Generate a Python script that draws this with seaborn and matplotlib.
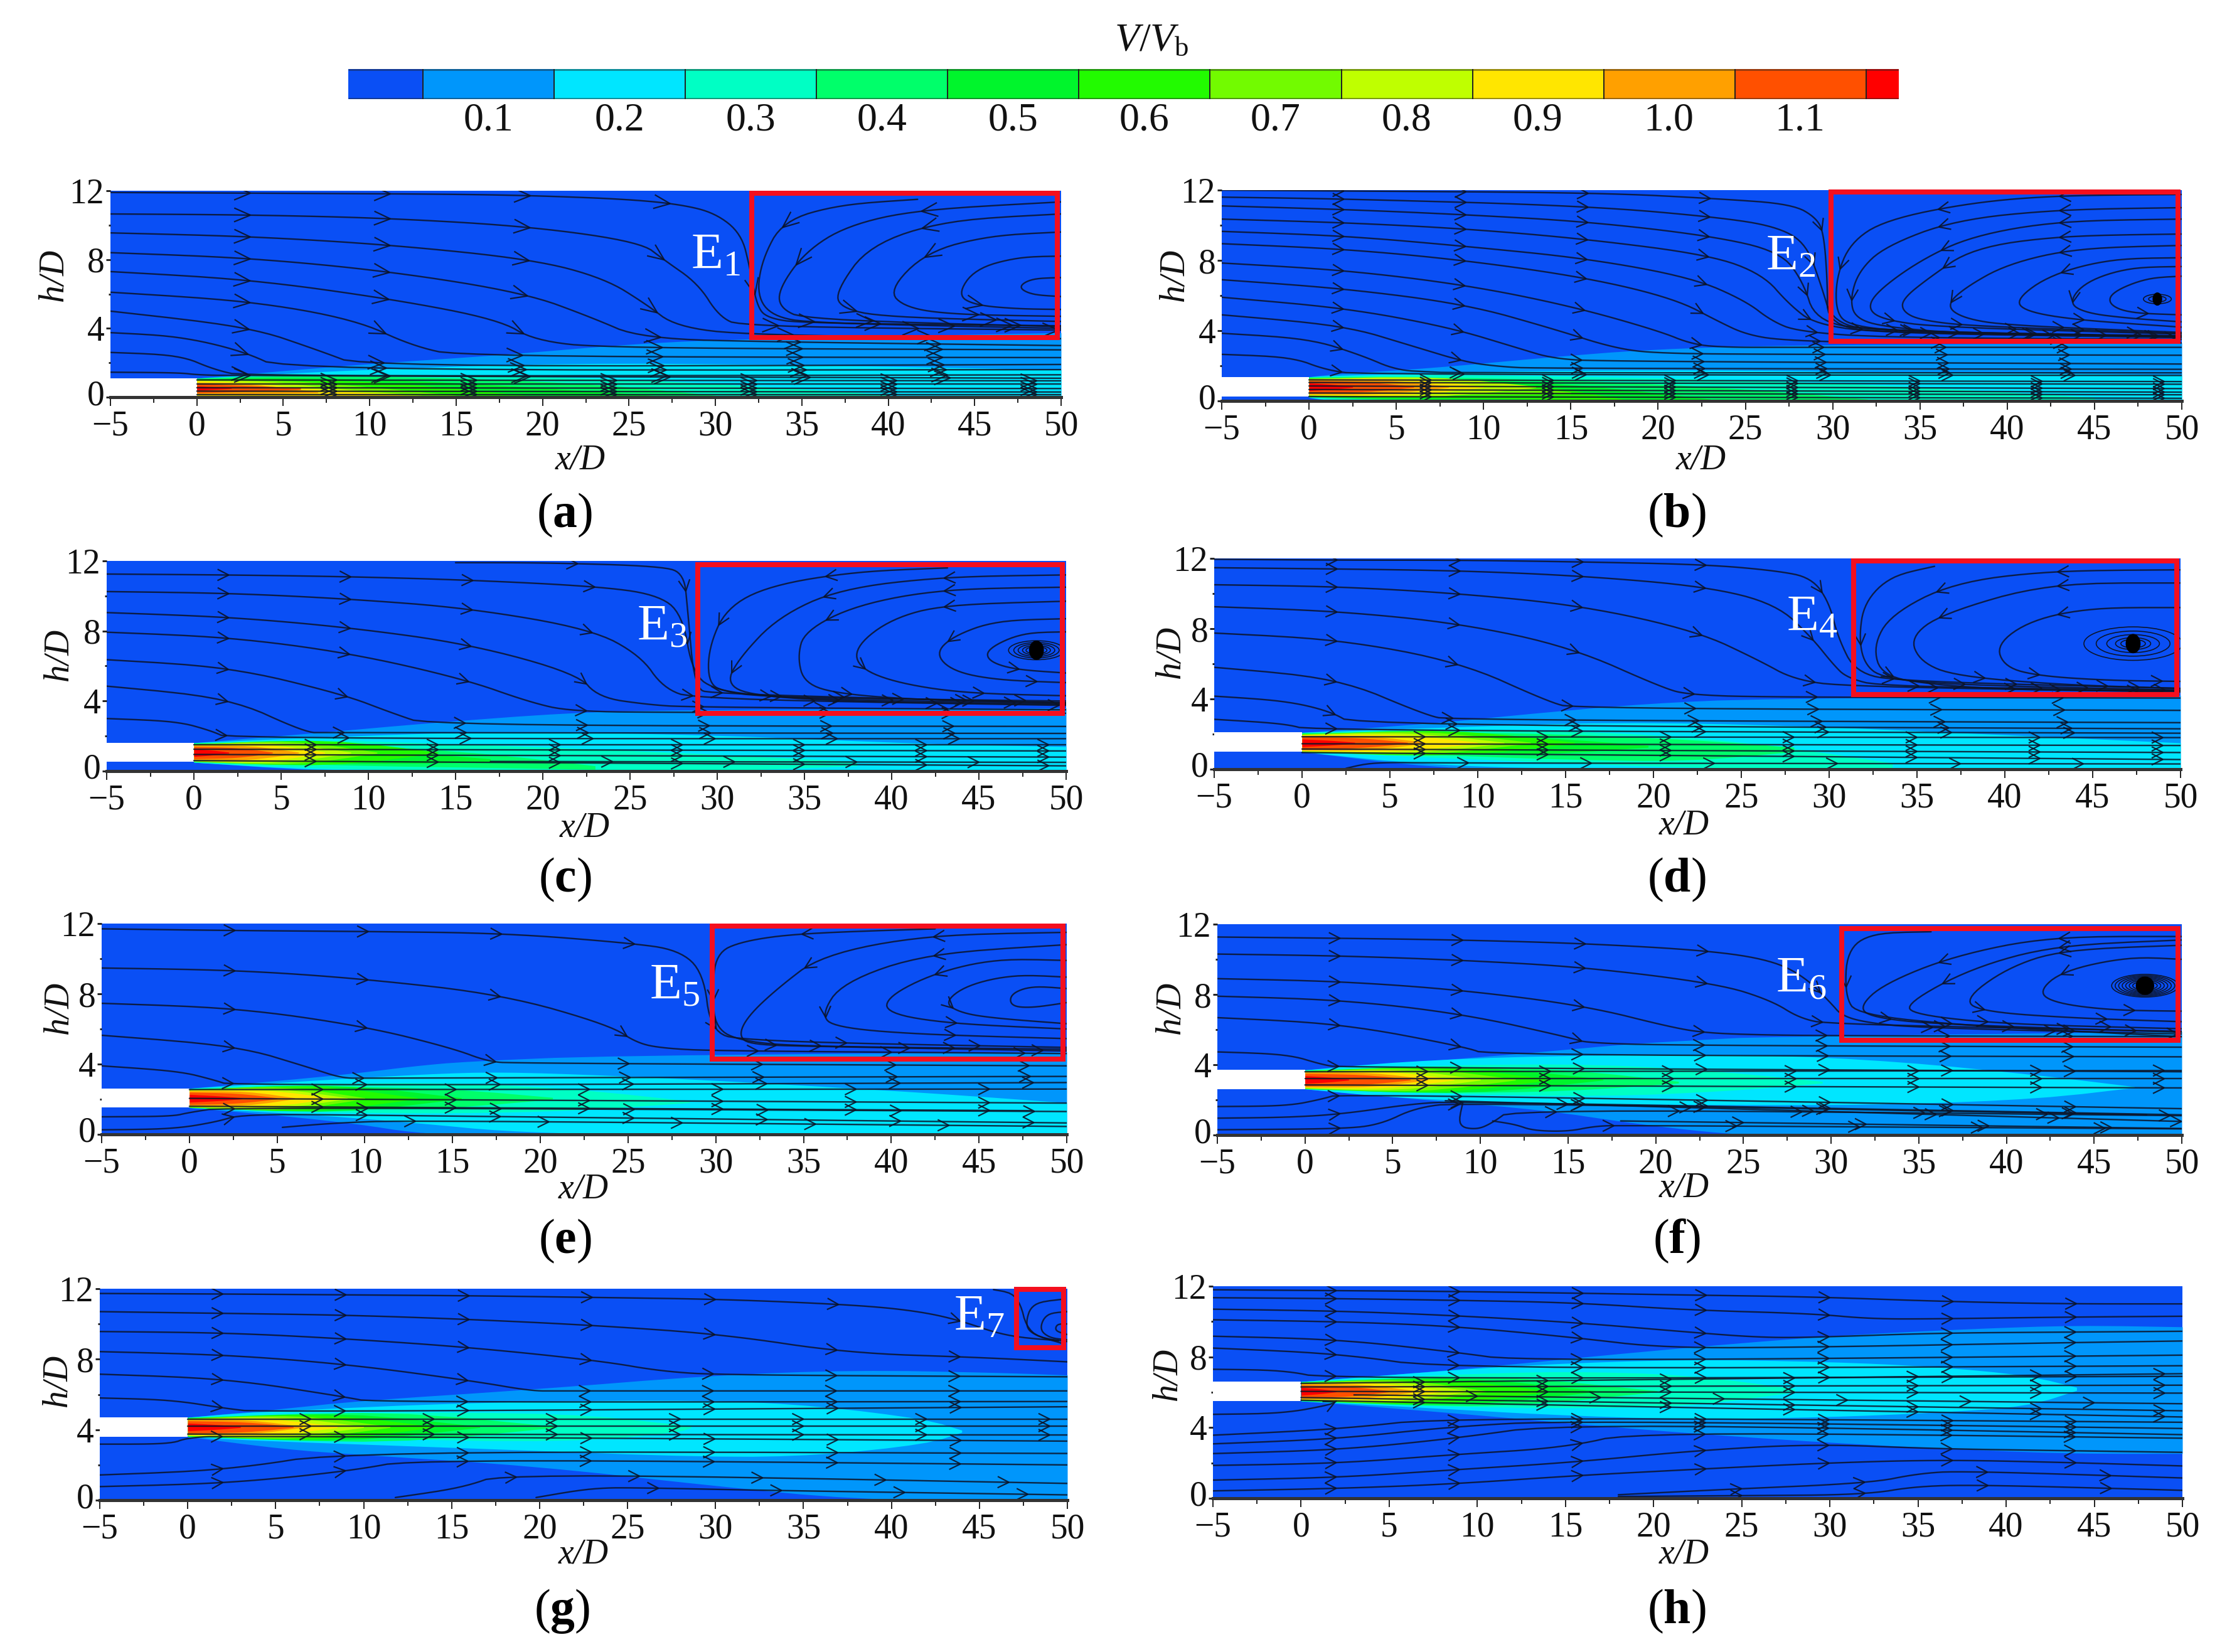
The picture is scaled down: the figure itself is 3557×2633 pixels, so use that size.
import numpy as np
import pandas as pd
import matplotlib
matplotlib.use('Agg')
import matplotlib.pyplot as plt
import seaborn as sns
from matplotlib.collections import LineCollection
from matplotlib.colors import ListedColormap
from matplotlib.patches import Ellipse, Rectangle
from matplotlib.transforms import ScaledTranslation

W, H = 3557, 2633

# colour scale
level_colors = ['#0a4ff5', '#0096fb', '#00e6ff', '#00ffc4', '#00ff6a', '#00f52c',
                '#22fb00', '#72fb00', '#bfff00', '#ffe600', '#ffa000', '#ff5000', '#ff0000']
level_edges = [0.05, 0.15, 0.25, 0.35, 0.45, 0.55, 0.65, 0.75, 0.85, 0.95, 1.05, 1.15]
bar_labels = ['0.1', '0.2', '0.3', '0.4', '0.5', '0.6', '0.7', '0.8', '0.9', '1.0', '1.1']
bar_label_values = [0.1, 0.2, 0.3, 0.4, 0.5, 0.6, 0.7, 0.8, 0.9, 1.0, 1.1]

# jet core, from level 3 up to level 12: half width at the nozzle and half way along
core_levels = [3, 4, 5, 6, 7, 8, 9, 10, 11, 12]
core_half0 = [0.55, 0.54, 0.52, 0.50, 0.50, 0.48, 0.45, 0.42, 0.35, 0.22]
core_half_mid = [1.00, 0.95, 0.85, 0.80, 0.72, 0.62, 0.52, 0.42, 0.30, 0.14]

# (level, x stations, upper edge, lower edge)
bands_a = [
    (1, [0, 9.2, 17.5, 25.7, 32, 50], [1.1, 1.9, 2.45, 3.15, 3.4, 3.75], 0),
    (2, [0, 9.2, 21.6, 33.9, 42, 50], [1.1, 1.6, 2.0, 1.9, 1.75, 1.6], 0),
    (3, [0, 5, 15, 25, 33, 40], [1.1, 1.3, 1.3, 1.05, 0.6, 0.15], 0),
    (4, [0, 5, 15, 24, 30], [1.1, 1.25, 1.15, 0.7, 0.1], 0),
    (5, [0, 5, 12, 20, 27], [1.05, 1.15, 1.0, 0.55, 0.05], 0),
    (6, [0, 5, 12, 19], [1.05, 1.1, 0.8, 0.1], 0),
    (7, [0, 5, 10, 15], [1.0, 1.0, 0.6, 0.1], 0),
    (8, [0, 4, 8, 13], [1.0, 0.95, 0.5, 0.1], 0),
    (9, [0, 3, 7, 12], [0.95, 0.85, 0.45, 0.1], 0.07),
    (10, [0, 3, 7], [0.85, 0.8, 0.3], [0.2, 0.2, 0.25]),
    (11, [0, 2, 6], [0.8, 0.7, 0.55], [0.25, 0.3, 0.45]),
    (12, [0, 2], [0.65, 0.55], [0.4, 0.5]),
]
bands_b = [
    (1, [0, 1, 7.3, 13.4, 19.5, 27.7, 50], [1.37, 1.5, 1.9, 2.47, 2.95, 3.2, 3.3],
     [0.2, 0, 0, 0, 0, 0, 0]),
    (2, [0, 1.5, 7, 15, 25, 35, 45, 50], [1.37, 1.45, 1.6, 1.75, 1.75, 1.6, 1.55, 1.5],
     [0.2, 0, 0, 0, 0, 0, 0, 0]),
    (3, [0, 2, 7, 15, 25, 35, 45], [1.37, 1.42, 1.5, 1.4, 1.2, 0.8, 0.2],
     [0.2, 0.05, 0, 0, 0, 0, 0]),
    (4, [0, 5, 15, 25, 32], [1.35, 1.4, 1.2, 0.7, 0.1], [0.22, 0.05, 0, 0, 0]),
    (5, [0, 5, 15, 23], [1.3, 1.35, 1.0, 0.1], [0.25, 0.1, 0, 0]),
    (6, [0, 5, 13, 18], [1.3, 1.3, 0.95, 0.1], [0.25, 0.2, 0.1, 0.05]),
    (7, [0, 5, 10, 15], [1.25, 1.2, 1.0, 0.5], [0.25, 0.3, 0.35, 0.4]),
]
bands_c = [
    (1, [0, 7.2, 13.4, 21.5, 27.5, 50], [1.62, 2.2, 2.75, 3.35, 3.5, 3.6], [0.5, 0.02, 0, 0, 0, 0]),
    (2, [0, 7.2, 17.4, 29.8, 42, 50], [1.62, 1.95, 2.28, 2.08, 1.55, 1.4], [0.5, 0.05, 0, 0, 0, 0]),
    (3, [0, 7, 15, 22, 30, 38], [1.62, 1.8, 1.55, 1.3, 0.95, 0.55], [0.5, 0.15, 0.05, 0, 0, 0.3]),
    (4, [0, 5, 10, 17, 23], [1.6, 1.6, 1.45, 1.0, 0.3], [0.55, 0.45, 0.3, 0.2, 0.1]),
    (5, [0, 5, 10, 17], [1.55, 1.5, 1.25, 0.7], [0.6, 0.5, 0.4, 0.5]),
]
bands_d = [
    (1, [0, 7.7, 13.7, 19.8, 25.9, 50], [2.09, 2.64, 3.24, 3.76, 4.03, 4.2], [0.99, 0.07, 0, 0, 0, 0]),
    (2, [0, 7.7, 17.8, 27.9, 38, 50], [2.09, 2.38, 2.7, 2.5, 2.05, 1.5], [0.99, 0.2, 0, 0, 0, 0]),
    (3, [0, 7, 15, 22, 28, 33.6], [2.09, 2.25, 2.2, 1.85, 1.2, 0.35], [0.99, 0.7, 0.35, 0.1, 0.05, 0.05]),
    (4, [0, 7, 15, 22, 28], [2.05, 2.15, 2.0, 1.7, 1.25], [1.0, 0.85, 0.55, 0.45, 1.0]),
    (5, [0, 7, 14, 19.7], [2.05, 2.0, 1.8, 1.35], [1.05, 0.95, 0.85, 1.25]),
]
bands_e = [
    (1, [0, 5.5, 9.6, 12.8, 15.7, 23.8, 50], [2.62, 3.1, 3.5, 3.9, 4.16, 4.5, 4.7], [1.52, 1.05, 0.6, 0.1, 0, 0, 0]),
    (2, [0, 7.5, 13.6, 17.7, 23.8, 32, 42, 50], [2.62, 3.1, 3.45, 3.57, 3.37, 2.97, 2.38, 1.8],
     [1.52, 1.1, 0.6, 0.2, 0, 0, 0, 0]),
    (3, [0, 8, 15, 22, 28.5], [2.62, 2.9, 2.95, 2.6, 1.9], [1.52, 1.25, 1.2, 1.35, 1.8]),
    (4, [0, 8, 15, 20.7], [2.55, 2.75, 2.6, 2.1], [1.55, 1.4, 1.5, 2.0]),
]
bands_f = [
    (1, [0, 7.5, 13.6, 18.5, 23, 25.8, 50], [3.7, 4.25, 4.75, 5.2, 5.45, 5.6, 5.9], [2.62, 1.95, 1.43, 0.7, 0.17, 0, 0]),
    (2, [0, 5.5, 13.6, 25.8, 33.9, 42, 47.3], [3.7, 4.2, 4.53, 4.6, 4.2, 3.4, 2.75], [2.62, 2.1, 1.8, 1.7, 1.75, 2.08, 2.7]),
    (3, [0, 8, 17, 24, 29.5], [3.7, 4.0, 4.05, 3.6, 3.05], [2.62, 2.35, 2.2, 2.5, 2.95]),
    (4, [0, 8, 15, 21.3], [3.65, 3.9, 3.75, 3.05], [2.65, 2.4, 2.5, 2.95]),
]
bands_g = [
    (1, [0, 5.5, 9.6, 19.7, 29.8, 37.9, 46, 50], [4.7, 5.2, 5.64, 6.3, 7.1, 7.4, 7.25, 7.1],
     [3.6, 2.9, 2.6, 1.95, 0.83, 0.05, 0, 0]),
    (2, [0, 3.5, 17, 29.8, 35.9, 42, 44], [4.7, 5.0, 5.6, 5.7, 5.36, 4.6, 3.97], [3.6, 3.4, 2.92, 2.44, 2.55, 3.2, 3.85]),
    (3, [0, 9.5, 21.7, 27.8, 28.6], [4.7, 5.0, 4.95, 4.3, 4.2], [3.6, 3.5, 3.3, 3.85, 4.1]),
]
bands_h = [
    (1, [0, 8.5, 19.8, 29.9, 38, 44, 50], [6.6, 7.25, 8.36, 9.2, 9.6, 9.8, 9.7], [5.5, 4.85, 3.85, 3.15, 2.75, 2.53, 2.53]),
    (2, [0, 7.7, 13.7, 21.8, 29.9, 36, 41.2, 44], [6.6, 7.2, 7.6, 7.87, 7.74, 7.46, 6.97, 6.28],
     [5.5, 5.1, 4.75, 4.47, 4.6, 4.85, 5.2, 6.1]),
    (3, [0, 8, 15, 22, 28], [6.6, 7.0, 7.2, 7.0, 6.2], [5.5, 5.2, 5.1, 5.2, 6.0]),
]

# where each core level ends along x
tips_a = []
tips_b = [(8, 13), (9, 10), (10, 8), (11, 6), (12, 2.5)]
tips_c = [(6, 14), (7, 10.5), (8, 9), (9, 7.5), (10, 6), (11, 4.5), (12, 2)]
tips_d = [(6, 15.5), (7, 13), (8, 11.5), (9, 10), (10, 7), (11, 6), (12, 3)]
tips_e = [(5, 15.5), (6, 13), (7, 10), (8, 9), (9, 8), (10, 6), (11, 5), (12, 3)]
tips_f = [(5, 17), (6, 14), (7, 12), (8, 10), (9, 8.5), (10, 7), (11, 6), (12, 2.5)]
tips_g = [(4, 20.9), (5, 16.6), (6, 14), (7, 11.5), (8, 10), (9, 8.5), (10, 6.5), (11, 6), (12, 3)]
tips_h = [(4, 20.2), (5, 16.7), (6, 14), (7, 10.5), (8, 9.5), (9, 8), (10, 6.5), (11, 5), (12, 2)]
core_centre = [0.6, 0.8, 1.05, 1.5, 2.05, 3.15, 4.15, 6.05]

# streamlines, (x, h)
lines_a = [
    ([-5, 5, 15, 20, 25, 28, 30, 31.5, 32, 32.4, 33, 35, 50], [11.9, 11.85, 11.8, 11.7, 11.5, 11.2, 10.7, 9.5, 7.5, 5.3, 4.6, 4.3, 4.15]),
    ([-5, 3, 11.3, 19.5, 25.7, 27, 29, 30.2, 31.5, 50], [10.65, 10.6, 10.4, 9.9, 9, 8, 6.6, 4.7, 4.1, 3.9]),
    ([-5, 3, 11.3, 19.5, 23.6, 26, 27.7, 31.9, 50], [9.55, 9.35, 8.85, 8, 6.9, 5.4, 4.1, 3.6, 3.4]),
    ([-5, 3, 11.3, 19, 22.8, 25.7, 34, 50], [8.4, 8.1, 7.3, 6.05, 4.65, 3.4, 3.2, 3.0]),
    ([-5, 3, 11.3, 17.5, 19.5, 23.6, 50], [7.3, 6.85, 5.7, 4.5, 3.3, 2.85, 2.75]),
    ([-5, 3, 9.2, 12.4, 15.3, 50], [6.1, 5.6, 4.5, 3, 2.35, 2.3]),
    ([-5, 3, 7.1, 9.6, 50], [5, 4.1, 2.7, 1.75, 1.9]),
    ([-5, -1.1, 2.6, 5.1, 50], [3.75, 3.55, 2.7, 1.55, 1.6]),
    ([-5, -1, 1, 2.8, 50], [2.6, 2.45, 1.6, 1.2, 1.3]),
    ([-5, -1, 0, 2, 50], [1.45, 1.42, 1.3, 1.25, 1.1]),
]
vortex_a = [
    ([41.7, 37.2, 33.9, 32.7, 32.4, 33.3, 35.6, 50], [11.5, 11.2, 10.25, 8, 5.9, 4.7, 4.3, 4.0]),
    ([50, 41.7, 37.6, 35.2, 33.7, 33.7, 35.2, 50], [11.35, 10.9, 9.97, 8.45, 6.35, 5.2, 4.5, 4.1]),
    ([50, 43.4, 38.9, 37, 37.2, 39.7, 50], [10.65, 10.3, 8.85, 6.2, 5.2, 4.65, 4.4]),
    ([50, 45.9, 42.2, 40, 41, 43.8, 50], [9.6, 9.4, 8.45, 6.2, 5.2, 4.8, 4.7]),
    ([50, 47.5, 45, 44, 45, 47.5, 50], [8.2, 8.15, 7.45, 5.95, 5.35, 5.13, 5.1]),
    ([50, 48.3, 47.5, 48.3, 50], [6.95, 6.9, 6.4, 5.95, 5.85]),
]
flats_a = [(0, 50, 1.0, 0.95), (0, 50, 0.75, 0.75), (0, 50, 0.55, 0.5), (0, 50, 0.35, 0.3), (0, 50, 0.15, 0.15)]

lines_b = [
    ([-5, 2, 16.7, 23.6, 27.7, 29.1, 29.5, 29.7, 29.7, 33.8, 50], [12, 11.95, 11.85, 11.5, 11.2, 10.4, 9.45, 6.7, 4.25, 3.85, 3.7]),
    ([-5, 2, 16, 24, 27, 28.5, 29.3, 30, 33, 50], [11.6, 11.5, 11.1, 10.4, 9.85, 8.9, 6.7, 4.4, 3.95, 3.7]),
    ([-5, 2, 9, 16, 23, 27, 28.3, 29, 32, 50], [11.1, 10.9, 10.6, 10.2, 9.4, 8.5, 6.8, 4.6, 4, 3.65]),
    ([-5, 2, 9, 16, 23, 26, 27.5, 29, 33, 50], [10.35, 10.15, 9.8, 9.2, 8.3, 7.2, 5.5, 4.35, 3.85, 3.6]),
    ([-5, 2, 9, 16, 22, 25, 26.5, 28, 33, 50], [9.65, 9.4, 8.8, 8.1, 7, 5.7, 4.55, 3.95, 3.6, 3.5]),
    ([-5, 2, 9, 16, 21, 23.5, 25, 27, 33, 50], [8.95, 8.65, 8, 7, 5.8, 4.5, 3.8, 3.45, 3.3, 3.3]),
    ([-5, 2, 9, 15, 20, 22, 24, 27, 50], [7.85, 7.45, 6.6, 5.4, 4, 3.2, 3.05, 3.05, 3.05]),
    ([-5, 2, 9, 14, 17.5, 20, 27, 50], [6.9, 6.4, 5.5, 4.1, 3, 2.7, 2.65, 2.6]),
    ([-5, 2, 8, 12, 14, 17, 50], [5.9, 5.3, 4.2, 3, 2.4, 2.25, 2.1]),
    ([-5, 2, 6, 9, 11, 13, 50], [4.9, 4.3, 3.1, 2.2, 1.95, 1.85, 1.8]),
    ([-5, 0, 3, 5, 7, 8, 50], [3.85, 3.55, 2.6, 1.75, 1.65, 1.6, 1.6]),
    ([-5, -1, 1, 3, 50], [2.65, 2.5, 1.75, 1.5, 1.45]),
]
vortex_b = [
    ([50, 43, 38, 33, 31, 30.2, 30.2, 31, 34, 50], [11.75, 11.7, 11.3, 10.3, 9, 7, 5, 4.3, 3.95, 3.65]),
    ([50, 43, 37, 33, 31.5, 31, 31.3, 33, 38, 50], [11, 10.9, 10.3, 8.8, 7.4, 5.8, 4.7, 4.2, 3.8, 3.7]),
    ([50, 43, 38, 35, 32.5, 32, 33, 36, 50], [10.35, 10.25, 9.4, 8, 6.2, 5.2, 4.6, 4.2, 3.8]),
    ([50, 43, 38, 35.5, 34, 34, 35, 38, 50], [9.5, 9.4, 8.7, 7, 5.8, 5.1, 4.6, 4.25, 3.85]),
    ([50, 44, 40, 37.5, 36.5, 37.5, 40, 50], [8.85, 8.7, 7.8, 6.4, 5.4, 4.7, 4.3, 3.9]),
    ([50, 46, 42.5, 40.5, 41, 44, 50], [8.15, 8.1, 7.2, 5.8, 5.1, 4.6, 4.2]),
    ([50, 47, 44.5, 43.5, 44.5, 47, 50], [7.65, 7.6, 6.8, 5.6, 5, 4.7, 4.5]),
    ([50, 48, 46, 45.8, 47, 50], [7.1, 7.0, 6.2, 5.5, 5.0, 4.9]),
]
flats_b = [(0, 50, 1.2, 1.1), (0, 50, 1.05, 0.95), (0, 50, 0.85, 0.7), (0, 50, 0.65, 0.5), (0, 50, 0.45, 0.35), (0, 50, 0.25, 0.15)]

lines_c = [
    ([15, 20, 26.9, 28.1, 28.3, 28.7, 29.7, 50], [11.9, 11.9, 11.7, 11.25, 9.25, 4.75, 4.4, 3.9]),
    ([-5, 2, 9, 16, 23, 26.5, 28, 28.6, 30, 33, 50], [11.25, 11.2, 11.1, 10.9, 10.55, 10.1, 9, 5.5, 4.6, 4.2, 4]),
    ([-5, 2, 8.9, 15.8, 22.8, 25.6, 26.9, 28.7, 50], [10.25, 10.16, 9.83, 9.3, 8.1, 6.6, 4.75, 4.1, 3.75]),
    ([-5, 2, 8.9, 15.8, 22, 23.2, 26, 28.3, 50], [9.05, 8.8, 8.2, 7.25, 5.55, 4.2, 3.8, 3.65, 3.5]),
    ([-5, 2, 8.9, 15.5, 19.2, 21.6, 28, 50], [7.93, 7.65, 6.75, 5.25, 3.95, 3.4, 3.35, 3.3]),
    ([-5, 2, 8.5, 11.4, 13.5, 50], [6.36, 5.95, 4.4, 3.3, 2.6, 2.55]),
    ([-5, 2, 6.4, 7.5, 50], [4.85, 4.2, 2.2, 2.2, 2.15]),
    ([-5, -1, 1, 2, 50], [3, 2.85, 2.3, 1.85, 1.85]),
]
vortex_c = [
    ([43.2, 38, 33, 30.5, 29.5, 29.5, 30.5, 35, 50], [11.6, 11.4, 10.6, 9.3, 7, 5, 4.5, 4.1, 3.85]),
    ([50, 43, 37, 33.5, 31.3, 30.5, 32, 38, 50], [11.2, 11.1, 10.4, 8.8, 6.5, 5, 4.3, 3.95, 3.8]),
    ([50, 43, 38, 35, 34.6, 35, 37, 42, 50], [10.5, 10.4, 9.5, 8, 6.5, 5, 4.4, 4.05, 3.9]),
    ([50, 43, 40, 38, 38, 40, 44, 50], [9.7, 9.5, 8.7, 7.2, 6, 5.1, 4.45, 4.3]),
    ([50, 46, 43.5, 42.5, 43.5, 46, 50], [8.7, 8.6, 7.7, 6.7, 5.7, 5.2, 5.05]),
    ([50, 47.5, 45.5, 45.5, 47, 50], [7.95, 7.9, 7, 6.3, 5.8, 5.6]),
]
flats_c = [(0, 50, 1.5, 1.5), (0, 50, 1.25, 1.15), (0, 50, 0.95, 0.8), (0, 50, 0.6, 0.3), (17, 50, 0.55, 0.5)]

lines_d = [
    ([-5, 2, 9, 16, 23, 27, 29, 30, 30.5, 31.5, 34, 50], [11.95, 11.9, 11.9, 11.8, 11.65, 11.3, 10.9, 9.5, 7.5, 5.5, 5, 4.6]),
    ([-5, 2, 9, 16, 23, 27, 29, 30.2, 31, 33, 50], [11.47, 11.4, 11.3, 11, 10.4, 9.4, 7.5, 6, 5.2, 4.7, 4.5]),
    ([-5, 2, 9, 16, 22.5, 26, 28, 31, 50], [10.5, 10.4, 10, 9.3, 7.85, 6.2, 5.1, 4.7, 4.4]),
    ([-5, 2, 9, 15.3, 20.6, 22, 26, 50], [9.25, 9, 8.3, 6.95, 4.6, 4.25, 4.1, 4.05]),
    ([-5, 2, 9, 14, 15.5, 50], [7.75, 7.4, 6.1, 3.85, 3.45, 3.35]),
    ([-5, 2, 7, 8.4, 50], [5.8, 5.2, 3.1, 2.8, 2.65]),
    ([-5, -1, 1.6, 3, 50], [4.16, 3.9, 3.3, 2.5, 2.3]),
    ([-5, -1, 0.5, 50], [2.84, 2.6, 2.2, 2.05]),
    ([2.5, 4, 8, 50], [0.05, 0.4, 0.35, 0.3]),
]
vortex_d = [
    ([36, 33.5, 32, 31.7, 32, 33, 37, 50], [11.55, 11, 9.5, 7.5, 6, 5.2, 4.8, 4.5]),
    ([50, 42.5, 37, 33.5, 32.5, 33, 36, 41, 50], [11.35, 11.3, 10.6, 8.8, 7, 5.3, 4.8, 4.5, 4.45]),
    ([50, 42.5, 36.4, 34.6, 35.2, 37.2, 43.3, 50], [10.6, 10.6, 8.85, 7.5, 6.1, 5.3, 4.8, 4.6]),
    ([50, 45, 41.5, 39.5, 40, 42, 46, 50], [9.2, 9.2, 8.5, 7.1, 5.8, 5.3, 5.05, 5]),
]
flats_d = [(0, 50, 1.85, 1.8), (0, 50, 1.45, 1.35), (0, 50, 1.15, 0.95), (0, 50, 0.95, 0.55)]

lines_e = [
    ([-5, 2.7, 10, 18, 25, 27.9, 29.3, 29.7, 31.5, 50], [11.7, 11.6, 11.55, 11.45, 10.9, 10.5, 9.2, 5.9, 5.3, 4.95]),
    ([-5, 2.7, 10, 17.9, 24, 25.5, 27, 30, 50], [9.47, 9.35, 8.85, 7.95, 6.2, 5.2, 4.9, 4.75, 4.6]),
    ([-5, 2.7, 10, 15, 17, 18.5, 50], [7.46, 7.2, 6.15, 4.9, 4.15, 4.05, 3.9]),
    ([-5, 2.7, 7, 8.7, 10, 50], [5.64, 5.05, 3.75, 3.2, 3.2, 3.3]),
    ([-5, -0.6, 1.4, 2.4, 50], [3.9, 3.6, 3.1, 2.77, 2.95]),
    ([-5, -1, 0, 2, 50], [1.0, 1.02, 1.25, 1.55, 1.3]),
    ([-5, -1, 1.5, 3, 10, 50], [0.26, 0.3, 0.7, 1.15, 1.1, 0.65]),
    ([5.3, 8.3, 12.4, 50], [0.4, 0.65, 0.8, 0.45]),
]
vortex_e = [
    ([42.5, 34.8, 31.5, 30, 29.8, 30, 31.5, 35, 50], [11.7, 11.45, 11, 10.3, 8, 6, 5.3, 5, 4.85]),
    ([50, 42, 36, 33.5, 31.8, 31.3, 32, 36, 50], [11.5, 11.35, 10.2, 8.3, 6.7, 5.6, 5.1, 5, 4.75]),
    ([50, 42, 37.2, 36, 36.8, 41.3, 50], [10.8, 10.3, 8.65, 6.8, 6.1, 5.7, 5.45]),
    ([50, 46, 42.5, 39.8, 39.7, 43.3, 50], [9.9, 10, 9.2, 7.85, 6.9, 6.3, 6]),
    ([50, 47, 44.3, 43, 44, 46, 50], [8.95, 9.1, 8.5, 7.5, 6.9, 6.6, 6.3]),
    ([50, 48, 46.8, 46.8, 48, 50], [8.3, 8.45, 8, 7.3, 7.2, 7.5]),
]
flats_e = [(0, 50, 2.55, 2.58), (0, 50, 2.05, 1.78), (0, 48, 1.6, 1.35)]

lines_f = [
    ([-5, 2, 9, 16, 23, 26.6, 28.5, 30, 30.6, 32, 35, 50], [11.27, 11.2, 11.1, 10.9, 10.5, 9.95, 9, 7.5, 6.8, 6.4, 6.1, 5.75]),
    ([-5, 2, 9, 16, 23.6, 26.6, 28.2, 29.9, 50], [10.3, 10.2, 9.95, 9.55, 8.6, 7.65, 6.65, 6.3, 5.9]),
    ([-5, 2, 9, 16, 21, 23, 26, 30, 50], [8.9, 8.75, 8.25, 7.35, 6.1, 5.8, 5.7, 5.65, 5.6]),
    ([-5, 2, 9, 15.3, 16, 21, 50], [7.9, 7.7, 6.9, 5.5, 5.25, 5.1, 5.0]),
    ([-5, 2, 9.2, 10.4, 50], [6.68, 6.35, 5, 4.55, 4.45]),
    ([-5, -1, 1, 2, 50], [4.73, 4.6, 4.0, 3.85, 3.6]),
    ([-5, -1, 1, 2, 50], [1.62, 1.65, 2.05, 2.35, 1.5]),
    ([-5, -1, 2.2, 6.3, 8.8, 50], [0.96, 1, 1.2, 1.8, 1.9, 1.15]),
    ([-5, 2.2, 4.3, 6.3, 8.8, 48], [0.3, 0.35, 0.6, 1.55, 1.85, 1.15]),
    ([9, 8.7, 9.8, 10.7, 11.8, 50], [1.85, 0.5, 0.3, 0.7, 1.5, 1.1]),
    ([10.7, 12, 13, 15, 16.5, 18, 50], [0.8, 0.6, 0.25, 0.2, 0.5, 0.55, 0.35]),
]
vortex_f = [
    ([35.7, 32.3, 30.9, 30.8, 31.5, 38, 50], [11.57, 11.5, 10.5, 7.9, 6.85, 6.2, 5.6]),
    ([50, 42.5, 37, 33, 31.6, 32.3, 36, 50], [11.3, 11.3, 10.2, 8.6, 7.3, 6.7, 6.3, 5.85]),
    ([50, 42.8, 38, 34.3, 34.7, 40, 50], [11.1, 10.8, 9.5, 7.5, 6.85, 6.3, 6.05]),
    ([50, 43.2, 40, 37.5, 38.8, 44, 50], [10.8, 10.55, 9.5, 7.65, 7, 6.65, 6.45]),
    ([50, 47, 43.2, 41.8, 42.8, 46, 50], [10, 10.15, 9.35, 8.15, 7.5, 7.1, 7.05]),
]
flats_f = [(0, 50, 3.6, 3.67), (0, 50, 3.2, 3.2), (0, 50, 2.85, 2.68), (8, 50, 1.95, 0.77), (18, 50, 0.8, 0.37)]

lines_g = [
    ([-5, 2.2, 9.2, 16.3, 23.5, 30.5, 37.5, 41, 43.6, 46.5, 49.5], [11.73, 11.7, 11.65, 11.6, 11.5, 11.4, 11.1, 10.8, 10.3, 9.3, 9.05]),
    ([-5, 2.2, 9.2, 16.3, 23.5, 30.5, 37.5, 45, 50], [10.7, 10.6, 10.5, 10.25, 9.9, 9.4, 8.35, 8.1, 7.85]),
    ([-5, 2.2, 9.2, 16.3, 23.5, 27, 30.5, 50], [9.57, 9.5, 9.15, 8.65, 7.9, 7.3, 7.1, 7]),
    ([-5, 2.2, 9.2, 16.3, 19.5, 21, 50], [8.43, 8.25, 7.7, 6.75, 6.2, 6.2, 6.2]),
    ([-5, 2.2, 9, 10.5, 50], [7.15, 6.9, 5.85, 5.55, 5.6]),
    ([-5, -1, 2.2, 4, 50], [5.8, 5.7, 5.2, 5, 5.3]),
    ([-5, -1, 0, 2.2, 50], [3.18, 3.18, 3.55, 3.65, 3.35]),
    ([-5, 2.2, 9.2, 50], [1.43, 1.7, 2.8, 2.65]),
    ([-5, 2.2, 9.2, 13, 50], [0.77, 0.95, 1.65, 2.35, 2.0]),
    ([11.8, 15.6, 18, 50], [0.15, 0.7, 1.55, 0.95]),
    ([19.8, 23, 26, 33, 50], [0.15, 0.7, 0.7, 0.55, 0.3]),
]
vortex_g = [
    ([45.8, 47.2, 47.8, 50], [11.95, 11.7, 9.3, 9.0]),
    ([49.7, 48, 47.6, 48, 49.7], [11.4, 11.2, 10, 9.4, 8.9]),
    ([50, 48.8, 48.4, 49, 50], [10.7, 10.6, 9.7, 9.2, 9.1]),
    ([50, 49.4, 49.3, 50], [10, 10, 9.6, 9.4]),
]
flats_g = [(0, 50, 4.6, 4.6), (0, 50, 4.2, 4.2), (0, 50, 3.75, 3.7)]

lines_h = [
    ([-5, 2, 9, 16, 22, 29, 36, 43, 50], [11.8, 11.75, 11.7, 11.6, 11.5, 11.4, 11.15, 11, 11]),
    ([-5, 2, 9, 15.5, 22, 29, 32.3, 36, 43, 50], [11.35, 11.3, 11.2, 11.07, 10.65, 10.45, 10.15, 10.15, 10.25, 10.3]),
    ([-5, 2, 8.5, 15.5, 22, 26, 29, 36, 43, 50], [10.7, 10.6, 10.35, 9.95, 9.4, 9.1, 9.1, 9.35, 9.4, 9.45]),
    ([-5, 2, 8.5, 15.5, 20.6, 29, 43, 50], [10.1, 10, 9.75, 9.1, 8.5, 8.55, 8.8, 8.9]),
    ([-5, 2, 8.5, 12.5, 50], [9.17, 9, 8.3, 7.75, 8.1]),
    ([-5, 2, 8.5, 50], [8.5, 8.2, 7.3, 7.5]),
    ([-5, -1, 1.5, 50], [7.3, 7.25, 6.75, 6.9]),
    ([-5, -1, 1.7, 2], [4.75, 4.8, 5.3, 5.5]),
    ([-5, 2, 8.5, 50], [3.57, 3.9, 4.6, 4.3]),
    ([-5, 2, 8.5, 15, 50], [3.08, 3.35, 4.05, 4.4, 3.95]),
    ([-5, 2, 8.5, 15, 50], [2.53, 2.73, 3.36, 4.26, 3.6]),
    ([-5, 2, 8.5, 15, 19, 50], [1.86, 1.97, 2.46, 2.87, 3.78, 3.4]),
    ([-5, 2, 8.5, 15.5, 22, 29, 36, 43, 50], [1.03, 1.17, 1.6, 2.04, 2.67, 3.08, 2.8, 2.7, 2.6]),
    ([-5, 2, 8.5, 15.5, 22, 29, 36, 43, 50], [0.42, 0.55, 0.8, 1.28, 1.62, 1.97, 2.18, 2.04, 1.83]),
    ([18, 24, 32.3, 35, 37.5, 50], [0.2, 0.5, 0.86, 1.4, 1.55, 1.15]),
    ([18, 25, 32, 35, 39, 50], [0.1, 0.15, 0.2, 0.7, 0.75, 0.45]),
]
vortex_h = []
flats_h = [(0, 50, 6.5, 7.05), (0, 50, 6.3, 6.4), (0, 50, 6.05, 5.95), (3, 50, 5.85, 5.35), (0, 50, 5.7, 4.95), (0, 50, 5.55, 4.6)]

panel_names = ['a', 'b', 'c', 'd', 'e', 'f', 'g', 'h']
panel_bands = [bands_a, bands_b, bands_c, bands_d, bands_e, bands_f, bands_g, bands_h]
panel_tips = [tips_a, tips_b, tips_c, tips_d, tips_e, tips_f, tips_g, tips_h]
panel_lines = [lines_a, lines_b, lines_c, lines_d, lines_e, lines_f, lines_g, lines_h]
panel_vortex = [vortex_a, vortex_b, vortex_c, vortex_d, vortex_e, vortex_f, vortex_g, vortex_h]
panel_flats = [flats_a, flats_b, flats_c, flats_d, flats_e, flats_f, flats_g, flats_h]

nozzle_top = [1.1, 1.37, 1.62, 2.09, 2.62, 3.7, 4.7, 6.6]
nozzle_bot = [0.07, 0.25, 0.52, 0.99, 1.52, 2.62, 3.6, 5.5]
arrow_step = [8.1, 7, 7, 7, 7.6, 7, 7, 7]

# red boxes: left, bottom, top
box_left = [32.1, 29.9, 28.9, 31.4, 29.8, 30.6, 47.1, None]
box_bottom = [3.45, 3.4, 3.3, 4.25, 4.3, 5.4, 8.65, None]
box_top = [11.85, 11.9, 11.8, 11.85, 11.85, 11.75, 11.95, None]
box_names = ['E$_{1}$', 'E$_{2}$', 'E$_{3}$', 'E$_{4}$', 'E$_{5}$', 'E$_{6}$', 'E$_{7}$', None]

# vortex eyes: x, h, eye size, ring radii in x
eye_x = [None, 48.6, 48.3, 47.3, None, 47.9, None, None]
eye_h = [None, 5.8, 6.9, 7.15, None, 8.5, None, None]
eye_w = [0, 0.5, 0.8, 0.8, 0, 1.0, 0, 0]
eye_t = [0, 0.7, 1.05, 1.05, 0, 1.0, 0, 0]
eye_rings = [[], [0.8, 0.5], [1.6, 1.3, 1.05, 0.8, 0.6], [2.8, 2.1, 1.5, 1.0, 0.7], [],
             [1.9, 1.7, 1.5, 1.3, 1.1, 0.9, 0.7], [], []]

# pixel layout: axes left, right, top (h=12), bottom (h=0)
ax_left = [176, 1947, 170, 1935, 162, 1940, 159, 1933]
ax_right = [1691, 3477, 1699, 3475, 1700, 3477, 1701, 3478]
ax_top = [304, 303, 894, 890, 1472, 1473, 2054, 2050]
ax_bottom = [633, 639, 1229, 1226, 1808, 1809, 2391, 2388]
xlabel_pos = [(925, 734), (2711, 734), (932, 1319), (2684, 1316), (930, 1895), (2684, 1893), (930, 2478), (2684, 2478)]
ylabel_pos = [(86, 438), (1871, 438), (93, 1043), (1865, 1039), (93, 1606), (1865, 1606), (91, 2200), (1860, 2190)]
tag_pos = [(900, 821), (2672, 821), (900, 1402), (2672, 1402), (900, 1978), (2672, 1978), (896, 2568), (2672, 2568)]
name_pos = [(1141, 408), (2854, 411), (1055, 1000), (2888, 985), (1075, 1572), (2870, 1561), (1561, 2101), None]

sns.set_theme(style='white')
plt.rcParams['font.family'] = ['Liberation Serif', 'DejaVu Serif']
plt.rcParams['mathtext.fontset'] = 'custom'
plt.rcParams['mathtext.rm'] = 'Liberation Serif'
plt.rcParams['mathtext.it'] = 'Liberation Serif:italic'
plt.rcParams['mathtext.bf'] = 'Liberation Serif:bold'
plt.rcParams['mathtext.default'] = 'rm'

fig = plt.figure(figsize=(W / 100, H / 100), dpi=100, facecolor='white')
PX = 0.72
LINE = '#0c1428'


def smooth(xs, ys, n=2):
    p = np.column_stack([xs, ys]).astype(float)
    for _ in range(n):
        if len(p) < 3:
            break
        q = 0.75 * p[:-1] + 0.25 * p[1:]
        r = 0.25 * p[:-1] + 0.75 * p[1:]
        mid = np.empty((2 * len(q), 2))
        mid[0::2] = q
        mid[1::2] = r
        p = np.vstack([p[0], mid[1:-1], p[-1]])
    return p[:, 0], p[:, 1]


def draw_band(ax, level, xs, top, bot):
    if np.isscalar(bot):
        bot = [bot] * len(xs)
    sx, st = smooth(xs, top)
    _, sb = smooth(xs, bot)
    ax.fill_between(sx, sb, st, color=level_colors[level], linewidth=0, zorder=1 + level * 0.01)


# colour bar
bar_px = (555, 3026, 110, 158)
bar_ax = fig.add_axes([bar_px[0] / W, 1 - bar_px[3] / H, (bar_px[1] - bar_px[0]) / W, (bar_px[3] - bar_px[2]) / H])
cell_values = np.arange(-0.005, 1.18, 0.01)
cell_levels = np.digitize(cell_values, level_edges)
sns.heatmap(cell_levels[np.newaxis, :], ax=bar_ax, cbar=False, cmap=ListedColormap(level_colors),
            vmin=-0.5, vmax=12.5, xticklabels=False, yticklabels=False)
to_cell = lambda v: (v + 0.01) / 0.01
bar_ax.set_xlim(to_cell(-0.007), to_cell(1.175))
bar_ax.vlines([to_cell(v) for v in level_edges], 0, 1, color='#222222', lw=2 * PX)
bar_ax.hlines([0, 1], to_cell(-0.007), to_cell(1.175), color='#222222', lw=5 * PX, alpha=0.45)
for v, s in zip(bar_label_values, bar_labels):
    px = 674 + (v - 0.05) / 0.1 * 209
    fig.text(px / W, 1 - 193 / H, s, ha='center', va='center', fontsize=46, color='#111111')
fig.text(1835 / W, 1 - 66 / H, r'$\mathit{V/V}_{\mathrm{b}}$', ha='center', va='center', fontsize=46, color='#111111')

for i, name in enumerate(panel_names):
    ax = fig.add_axes([ax_left[i] / W, 1 - ax_bottom[i] / H, (ax_right[i] - ax_left[i]) / W,
                       (ax_bottom[i] - ax_top[i]) / H])
    ax.set_xlim(-5, 50)
    ax.set_ylim(0, 12)
    ax.set_facecolor(level_colors[0])
    sx = (ax_right[i] - ax_left[i]) / 55
    sy = (ax_bottom[i] - ax_top[i]) / 12

    # speed bands, outer ones first
    for level, xs, top, bot in panel_bands[i]:
        draw_band(ax, level, xs, top, bot)
    for level, tip in panel_tips[i]:
        k = core_levels.index(level)
        c = core_centre[i]
        draw_band(ax, level, [0, 0.55 * tip, tip], [c + core_half0[k], c + core_half_mid[k], c + 0.03],
                  [c - core_half0[k], c - core_half_mid[k], c - 0.03])

    ax.fill_between([-5, 0], nozzle_bot[i], nozzle_top[i], color='white', linewidth=0, zorder=2)

    # streamlines
    raw = list(panel_lines[i]) + list(panel_vortex[i])
    raw += [([f[0], f[1]], [f[2], f[3]]) for f in panel_flats[i]]
    rows = []
    segs = []
    step = arrow_step[i]
    length = 26 if name == 'a' else 18
    half = 11 if name == 'a' else 9
    for n, (xs, hs) in enumerate(raw):
        lx, lh = smooth(xs, hs, 3)
        rows.append(pd.DataFrame({'x': lx, 'h': lh, 'line': n}))
        px = lx * sx
        py = lh * sy
        arc = np.r_[0, np.cumsum(np.hypot(np.diff(px), np.diff(py)))]
        spacing = step * sx
        for s in np.arange(spacing, arc[-1], spacing):
            tx, ty = np.interp(s, arc, px), np.interp(s, arc, py)
            bx, by = np.interp(s - 8, arc, px), np.interp(s - 8, arc, py)
            ux, uy = tx - bx, ty - by
            norm = np.hypot(ux, uy) or 1
            ux, uy = ux / norm, uy / norm
            for sign in (-1, 1):
                wing = (tx - length * ux - sign * half * uy, ty - length * uy + sign * half * ux)
                segs.append([(wing[0] / sx, wing[1] / sy), (tx / sx, ty / sy)])
    stream = pd.concat(rows, ignore_index=True)
    sns.lineplot(data=stream, x='x', y='h', units='line', estimator=None, sort=False, color=LINE,
                 lw=2.4 * PX, alpha=0.85, ax=ax, legend=False, zorder=3)
    ax.add_collection(LineCollection(segs, colors=LINE, linewidths=2.2 * PX, alpha=0.9, zorder=3))

    if eye_x[i] is not None:
        for r in eye_rings[i]:
            ax.add_patch(Ellipse((eye_x[i], eye_h[i]), 2 * r, 2 * r * 0.34, fill=False, ec=LINE,
                                 lw=1.6 * PX, zorder=3))
        ax.add_patch(Ellipse((eye_x[i], eye_h[i]), eye_w[i], eye_t[i], fc='black', ec='black', zorder=3))

    if box_left[i] is not None:
        ax.add_patch(Rectangle((box_left[i], box_bottom[i]), 49.8 - box_left[i], box_top[i] - box_bottom[i],
                               fill=False, ec='#f40f1e', lw=8 * PX, zorder=5, clip_on=False))
        nx, ny = name_pos[i]
        fig.text(nx / W, 1 - ny / H, box_names[i], ha='center', va='center', color='white', fontsize=60, zorder=6)

    # axes
    ax.set_xticks(np.arange(-5, 51, 5))
    ax.set_xticklabels(['\u22125'] + [str(v) for v in range(0, 51, 5)])
    ax.set_xticks(np.arange(-2.5, 50, 5), minor=True)
    ax.set_yticks([0, 4, 8, 12])
    ax.set_yticks([2, 6, 10], minor=True)
    ax.tick_params(axis='x', which='major', bottom=True, length=14 * PX, width=2 * PX, pad=5, labelsize=40, labelcolor='#111111')
    ax.tick_params(axis='x', which='minor', bottom=True, length=9 * PX, width=2 * PX)
    ax.tick_params(axis='y', which='major', left=True, length=7 * PX, width=3 * PX, pad=2, labelsize=40, labelcolor='#111111')
    ax.tick_params(axis='y', which='minor', left=True, length=3 * PX, width=3 * PX)
    zero = ax.get_yticklabels()[0]
    zero.set_transform(zero.get_transform() + ScaledTranslation(0, 8 / 100, fig.dpi_scale_trans))
    ax.set_xlabel('')
    ax.set_ylabel('')
    for side in ('left', 'top', 'right'):
        ax.spines[side].set_visible(False)
    ax.spines['bottom'].set_linewidth(5 * PX)
    ax.spines['bottom'].set_color('#333333')
    ax.spines['bottom'].set_zorder(6)

    lx, ly = xlabel_pos[i]
    fig.text(lx / W, 1 - ly / H, 'x/D', style='italic', ha='center', va='center', fontsize=40, color='#111111')
    lx, ly = ylabel_pos[i]
    fig.text(lx / W, 1 - ly / H, 'h/D', style='italic', ha='center', va='center', rotation=90, fontsize=40, color='#111111')
    lx, ly = tag_pos[i]
    fig.text(lx / W, 1 - ly / H, '($\\mathbf{' + name + '}$)', ha='center', va='center', fontsize=56, color='black')

fig.savefig('out.png', dpi=100, facecolor='white')
